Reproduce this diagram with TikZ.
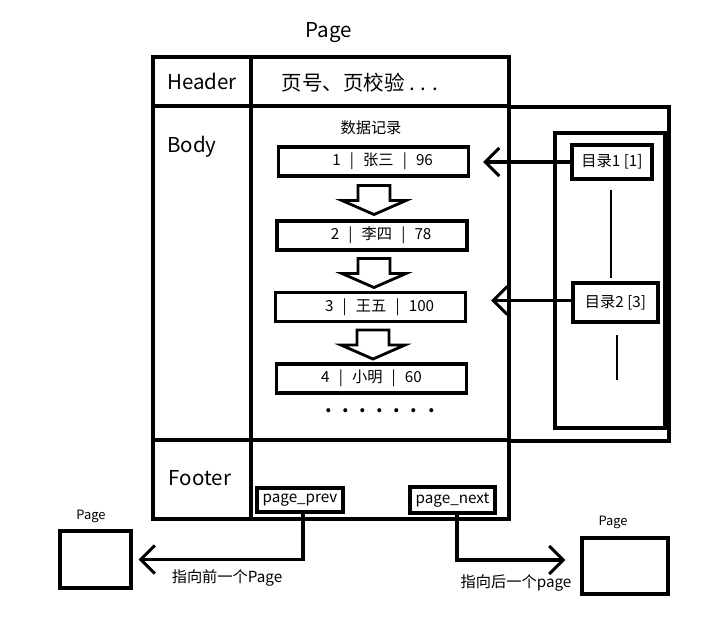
\documentclass[tikz,border=0pt]{standalone}
\usepackage{fontspec}
\setmainfont{Noto Sans CJK SC}
\usetikzlibrary{arrows.meta,calc}
\def\pxu{0.03cm}
\newcommand\recsep{\hspace{0.6em}|\hspace{0.6em}}

\begin{document}
\begin{tikzpicture}[x=0.03cm,y=-0.03cm,
    hfont/.style={font=\fontsize{17.5}{20}\selectfont},
    rfont/.style={font=\fontsize{13}{15}\selectfont},
    sfont/.style={font=\fontsize{11}{13}\selectfont},
    cell/.style={draw, line width=3.4pt, inner sep=0pt},
    rec/.style={draw, line width=2.6pt, minimum width=190*\pxu, minimum height=29*\pxu, inner sep=0pt, rfont},
    box/.style={draw, line width=2.6pt, inner sep=0pt},
    ptr/.style={line width=2.6pt, -{Straight Barb[length=12pt,width=24pt]}},
    pics/blockdown/.style={code={
      \draw[line width=2.4pt, line join=miter, fill=white]
        (-16,0) -- (16,0) -- (16,15) -- (32,15) -- (0,29) -- (-32,15) -- (-16,15) -- cycle;}}]

  \useasboundingbox (0,0) rectangle (727,624);

  \node[hfont] (title) at (329,33) {Page};

  % directory beside the page
  \begin{scope}[every node/.style={box}]
    \node (dirout) at (589,274) [minimum width=160*\pxu, minimum height=334*\pxu] {};
    \node (dirin)  at (610,280.5) [minimum width=110*\pxu, minimum height=295*\pxu] {};
    \node (d1) at (612,162)   [minimum width=80*\pxu, minimum height=34*\pxu, rfont] {目录1 [1]};
    \node (d2) at (615.5,302.5) [minimum width=85*\pxu, minimum height=39*\pxu, rfont] {目录2 [3]};
  \end{scope}

  % page frame
  \begin{scope}[every node/.style={cell}]
    \node (headL) at (202,81.5) [minimum width=98*\pxu,  minimum height=49*\pxu, hfont] {Header};
    \node (headR) at (380,81.5) [minimum width=258*\pxu, minimum height=49*\pxu] {};
    \node (bodyL) at (202,273)  [minimum width=98*\pxu,  minimum height=334*\pxu] {};
    \node (bodyR) at (380,273)  [minimum width=258*\pxu, minimum height=334*\pxu] {};
    \node (footL) at (202,479.5) [minimum width=98*\pxu,  minimum height=79*\pxu] {};
    \node (footR) at (380,479.5) [minimum width=258*\pxu, minimum height=79*\pxu] {};
  \end{scope}

  \node[hfont] (htxt) at (360,83) {页号、页校验 . . .};
  \node[hfont] (body) at (192,147) {Body};
  \node[hfont] (foot) at (200,478) {Footer};
  \node[rfont] (recs) at (371,128) {数据记录};

  % records
  \node[rec] (r1) at (373.5,161.5) {\hspace{1.2em}1\recsep 张三\recsep 96};
  \node[rec] (r2) at (372,235.5)   {\hspace{1.2em}2\recsep 李四\recsep 78};
  \node[rec] (r3) at (370.5,307)   {\hspace{1.2em}3\recsep 王五\recsep 100};
  \node[rec] (r4) at (371.5,378.5) {4\recsep 小明\recsep 60};
  \node[font=\bfseries\fontsize{16}{18}\selectfont] (dots) at (380,411)
    {.\hspace{9pt}.\hspace{9pt}.\hspace{9pt}.\hspace{9pt}.\hspace{9pt}.\hspace{9pt}.};

  \pic at ($(r1.south)+(0.5,8)$) {blockdown};
  \pic at ($(r2.south)+(2,7)$) {blockdown};
  \pic at ($(r3.south)+(2.5,7)$) {blockdown};

  \draw[line width=2.5pt] ($(d1.south)+(-1,9)$) -- ($(d2.north)+(-4.5,-3)$);
  \coordinate (dend) at (617,380);
  \draw[line width=2.5pt] ($(d2.south)+(1.5,11)$) -- (dend);

  \draw[ptr, shorten >=13*\pxu] (d1.west) -- (d1.west -| r1.east);
  \draw[ptr, shorten >=24*\pxu] ($(d2.west)+(0,-2)$) -- ($(d2.west -| r3.east)+(0,-2)$);

  % footer pointers
  \begin{scope}[every node/.style={box, rfont, inner sep=1pt}]
    \node (prev) at (300,500)   [minimum width=86*\pxu, minimum height=24*\pxu] {page\_prev};
    \node (next) at (452.5,500) [minimum width=85*\pxu, minimum height=26*\pxu] {page\_next};
  \end{scope}

  \node[box, line width=2.8pt, minimum width=71*\pxu, minimum height=57*\pxu] (lp) at (95.5,559.5) {};
  \node[box, line width=2.8pt, minimum width=86*\pxu, minimum height=56*\pxu] (rp) at (625,566) {};
  \node[sfont] (lptxt) at (91,516) {Page};
  \node[sfont] (rptxt) at (613,522) {Page};

  \draw[ptr, shorten >=6*\pxu] ($(prev.south)+(3,0)$) |- (lp.east);
  \draw[ptr, shorten >=15*\pxu] ($(next.south)+(4.5,0)$) |- ($(rp.west)+(0,-6)$);

  \node[rfont] (prevtxt) at (227,578) {指向前一个Page};
  \node[rfont] (nexttxt) at (516,583) {指向后一个page};

\end{tikzpicture}
\end{document}
